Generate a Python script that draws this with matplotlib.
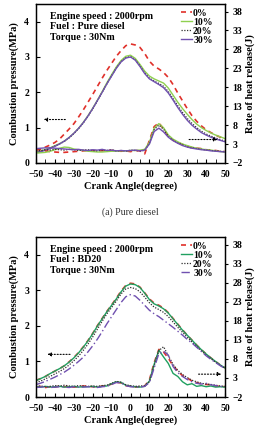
import numpy as np
import matplotlib
matplotlib.use('Agg')
import matplotlib.pyplot as plt

plt.rcParams['font.family'] = 'Liberation Serif'
plt.rcParams['font.weight'] = 'bold'

# crank angle grid (degree)
crank = np.arange(-50, 50.1, 2.5)

# ---------------- (a) Pure diesel ----------------
# combustion pressure (MPa)
pd_p0 = [0.36, 0.40, 0.45, 0.51, 0.58, 0.68, 0.82, 0.96, 1.11, 1.30, 1.50, 1.72, 1.94, 2.17,
         2.40, 2.62, 2.82, 3.02, 3.18, 3.32, 3.37, 3.34, 3.27, 3.10, 2.88, 2.74, 2.66, 2.56,
         2.42, 2.22, 1.98, 1.76, 1.54, 1.34, 1.18, 1.05, 0.94, 0.86, 0.79, 0.73, 0.68]
pd_p10 = [0.31, 0.34, 0.38, 0.43, 0.49, 0.55, 0.62, 0.72, 0.84, 0.98, 1.15, 1.34, 1.55, 1.78,
          2.02, 2.27, 2.50, 2.72, 2.90, 3.02, 3.05, 2.96, 2.79, 2.60, 2.46, 2.38, 2.32, 2.26,
          2.12, 1.92, 1.72, 1.54, 1.38, 1.23, 1.10, 1.00, 0.92, 0.85, 0.79, 0.74, 0.69]
pd_p20 = [0.30, 0.33, 0.37, 0.42, 0.48, 0.54, 0.61, 0.71, 0.83, 0.97, 1.13, 1.32, 1.53, 1.76,
          2.00, 2.24, 2.47, 2.69, 2.87, 2.98, 3.01, 2.92, 2.75, 2.55, 2.40, 2.32, 2.25, 2.17,
          2.02, 1.82, 1.62, 1.43, 1.26, 1.12, 1.00, 0.90, 0.82, 0.76, 0.71, 0.66, 0.62]
pd_p30 = [0.29, 0.32, 0.36, 0.41, 0.47, 0.54, 0.62, 0.72, 0.84, 0.98, 1.14, 1.33, 1.54, 1.77,
          2.00, 2.24, 2.46, 2.68, 2.86, 2.97, 3.00, 2.91, 2.73, 2.53, 2.38, 2.30, 2.22, 2.13,
          1.98, 1.78, 1.57, 1.38, 1.21, 1.07, 0.96, 0.86, 0.79, 0.73, 0.68, 0.64, 0.60]
# rate of heat release (J)
pd_h0 = [1.6, 1.5, 1.2, 1.0, 0.9, 0.8, 0.8, 0.9, 1.0, 1.1, 1.2, 1.3, 1.2, 1.3, 1.2, 1.4, 1.3,
         1.2, 1.1, 1.2, 1.0, 1.3, 1.2, 0.4, 4.0, 7.6, 8.6, 7.0, 5.0, 4.0, 3.4, 2.9, 2.4, 2.1,
         1.9, 1.8, 1.5, 1.4, 1.3, 1.1, 1.0]
pd_h10 = [0.6, 0.7, 0.8, 1.1, 1.5, 1.9, 2.2, 2.1, 1.7, 1.5, 1.3, 1.1, 1.0, 0.9, 0.9, 1.0, 1.1,
          1.1, 1.2, 1.2, 1.3, 1.3, 1.4, 1.6, 3.5, 7.2, 8.4, 7.3, 5.4, 4.3, 3.6, 3.0, 2.6, 2.2,
          1.9, 1.7, 1.5, 1.4, 1.2, 1.0, 0.9]
pd_h20 = [1.4, 1.3, 1.5, 1.4, 1.6, 1.5, 1.4, 1.6, 1.5, 1.3, 1.4, 1.5, 1.3, 1.2, 1.4, 1.3, 1.5,
          1.2, 1.3, 1.1, 1.4, 1.3, 1.2, 1.3, 3.2, 6.8, 8.0, 6.9, 5.0, 4.0, 3.3, 2.8, 2.2, 2.0,
          1.8, 1.6, 1.4, 1.3, 1.2, 1.1, 1.0]
pd_h30 = [1.8, 1.9, 2.0, 2.0, 1.9, 1.8, 1.7, 1.6, 1.5, 1.6, 1.4, 1.3, 1.5, 1.4, 1.6, 1.3, 1.4,
          1.2, 1.3, 1.2, 1.3, 1.4, 1.2, 1.4, 3.0, 6.3, 7.2, 6.2, 4.8, 3.9, 3.2, 2.6, 2.2, 1.9,
          1.7, 1.5, 1.4, 1.2, 1.1, 1.0, 0.9]

# ---------------- (b) BD20 ----------------
bd_p0 = [0.47, 0.52, 0.58, 0.66, 0.73, 0.80, 0.88, 0.99, 1.11, 1.25, 1.41, 1.59, 1.79, 2.01,
         2.21, 2.41, 2.59, 2.78, 2.98, 3.14, 3.20, 3.18, 3.09, 2.93, 2.76, 2.64, 2.58, 2.50,
         2.37, 2.21, 2.05, 1.89, 1.74, 1.60, 1.46, 1.33, 1.21, 1.10, 1.00, 0.90, 0.82]
bd_p10 = [0.46, 0.52, 0.58, 0.66, 0.73, 0.80, 0.88, 0.98, 1.10, 1.24, 1.40, 1.58, 1.78, 2.00,
          2.20, 2.40, 2.58, 2.76, 2.96, 3.12, 3.18, 3.16, 3.08, 2.92, 2.74, 2.62, 2.56, 2.48,
          2.36, 2.20, 2.04, 1.88, 1.74, 1.60, 1.46, 1.33, 1.21, 1.10, 1.00, 0.90, 0.82]
bd_p20 = [0.40, 0.45, 0.51, 0.58, 0.65, 0.72, 0.80, 0.90, 1.02, 1.15, 1.31, 1.49, 1.69, 1.91,
          2.13, 2.34, 2.52, 2.70, 2.90, 3.04, 3.08, 3.05, 2.96, 2.81, 2.65, 2.53, 2.46, 2.38,
          2.26, 2.11, 1.96, 1.82, 1.68, 1.55, 1.42, 1.30, 1.18, 1.08, 0.98, 0.89, 0.81]
bd_p30 = [0.35, 0.39, 0.44, 0.50, 0.56, 0.63, 0.70, 0.79, 0.89, 1.00, 1.12, 1.27, 1.44, 1.63,
          1.84, 2.06, 2.26, 2.46, 2.66, 2.82, 2.88, 2.84, 2.72, 2.58, 2.44, 2.34, 2.26, 2.16,
          2.06, 1.96, 1.85, 1.74, 1.62, 1.52, 1.40, 1.28, 1.16, 1.06, 0.97, 0.88, 0.80]
bd_h0 = [0.6, 0.8, 0.5, 0.7, 0.6, 0.9, 0.7, 0.8, 0.6, 0.7, 0.9, 0.8, 0.7, 0.6, 0.9, 1.0, 1.4,
         1.9, 1.7, 1.0, 0.8, 0.6, 0.7, 0.9, 2.5, 7.0, 10.5, 9.8, 8.2, 6.2, 4.8, 3.6, 3.0, 2.2,
         1.8, 1.4, 1.3, 1.2, 0.9, 0.8, 0.7]
bd_h10 = [0.7, 0.6, 0.8, 0.6, 0.7, 0.8, 0.6, 0.7, 0.8, 0.6, 0.7, 0.7, 0.8, 0.6, 0.8, 0.9, 1.5,
          2.0, 1.8, 1.1, 0.8, 0.7, 0.6, 0.8, 2.2, 6.6, 10.3, 8.5, 6.8, 4.2, 3.4, 2.0, 1.2, 1.5,
          0.8, 1.0, 0.7, 0.9, 0.6, 0.7, 0.6]
bd_h20 = [0.8, 0.9, 0.7, 0.8, 1.0, 0.9, 1.1, 0.9, 0.8, 1.0, 0.9, 0.8, 0.9, 0.8, 1.0, 1.1, 1.6,
          2.1, 1.9, 1.2, 1.0, 0.8, 0.9, 1.0, 2.0, 6.2, 10.2, 11.2, 8.8, 6.6, 5.0, 3.9, 3.1, 2.4,
          2.0, 1.6, 1.4, 1.3, 1.1, 0.9, 0.8]
bd_h30 = [0.5, 0.6, 0.7, 0.5, 0.6, 0.7, 0.6, 0.5, 0.7, 0.6, 0.6, 0.7, 0.6, 0.5, 0.7, 0.8, 1.3,
          1.8, 1.7, 1.0, 0.7, 0.6, 0.6, 0.8, 1.8, 5.6, 9.4, 10.0, 9.0, 6.0, 4.4, 3.4, 2.6, 2.0,
          1.6, 1.4, 1.6, 1.2, 1.0, 0.8, 0.7]

labels = ['0%', '10%', '20%', '30%']
red = '#e0302a'
purple = '#7050b0'
dark = '#303030'


def draw_panel(ax, p_list, h_list, styles, fuel, larrow, rarrow):
    ax2 = ax.twinx()
    lines = []
    for p, h, st in zip(p_list, h_list, styles):
        ln, = ax.plot(crank, p, **st)
        ax2.plot(crank, h, **st)
        lines.append(ln)

    ax.set_xlim(-50, 50)
    ax.set_ylim(0, 4.5)
    ax2.set_ylim(-2, 40)
    ax.set_xticks(np.arange(-50, 51, 10))
    ax.set_xticks(np.arange(-50, 51, 5), minor=True)
    ax.set_yticks([0, 1, 2, 3, 4])
    ax2.set_yticks(np.arange(-2, 39, 5))
    ax.tick_params(axis='x', which='both', direction='in', length=3, labelsize=7, pad=5)
    ax.tick_params(axis='y', direction='in', length=3, labelsize=7, pad=5)
    ax2.tick_params(axis='y', direction='out', length=2.5, labelsize=7, pad=3)

    ax.set_xlabel('Crank Angle(degree)', fontsize=7.5, fontweight='bold', labelpad=2)
    ax.set_ylabel('Combustion pressure(MPa)', fontsize=7.5, fontweight='bold', labelpad=4)
    ax2.set_ylabel('Rate of heat release(J)', fontsize=7.5, fontweight='bold', labelpad=2)

    ax.text(0.075, 0.95, 'Engine speed : 2000rpm\nFuel : ' + fuel + '\nTorque : 30Nm',
            transform=ax.transAxes, fontsize=7.2, fontweight='bold', va='top', ha='left',
            linespacing=1.2)

    ax.legend(lines, labels, loc='upper right', bbox_to_anchor=(0.96, 1.0),
              frameon=False, fontsize=7, handlelength=1.1, handletextpad=0.1,
              labelspacing=0.0, borderpad=0.3, borderaxespad=0.2)

    ax.annotate('', xy=(larrow[0], larrow[2]), xytext=(larrow[1], larrow[2]),
                arrowprops=dict(arrowstyle='-|>', linestyle=':', lw=0.8, color='k',
                                mutation_scale=5, shrinkA=0, shrinkB=0))
    ax2.annotate('', xy=(rarrow[1], rarrow[2]), xytext=(rarrow[0], rarrow[2]),
                 arrowprops=dict(arrowstyle='-|>', linestyle=':', lw=0.8, color='k',
                                 mutation_scale=5, shrinkA=0, shrinkB=0))
    for a in (ax, ax2):
        for s in a.spines.values():
            s.set_linewidth(0.9)
    return ax2


fig = plt.figure(figsize=(2.6, 4.33), dpi=100)

styles_a = [dict(color=red, lw=1.2, ls=(0, (3, 2.5))),
            dict(color='#8fd050', lw=1.0, ls='-'),
            dict(color=dark, lw=0.9, ls=(0, (1, 1.2))),
            dict(color=purple, lw=1.0, ls='-')]
styles_b = [dict(color=red, lw=1.2, ls=(0, (3, 2.5))),
            dict(color='#20a060', lw=1.0, ls='-'),
            dict(color=dark, lw=0.9, ls=(0, (1, 1.2))),
            dict(color=purple, lw=1.0, ls=(0, (6, 2, 1, 2)))]

ax_a = fig.add_axes([0.1385, 0.6236, 0.727, 0.3672])
draw_panel(ax_a, [pd_p0, pd_p10, pd_p20, pd_p30], [pd_h0, pd_h10, pd_h20, pd_h30],
           styles_a, 'Pure diesel', (-46, -34.5, 1.23), (31, 46, 4.2))

ax_b = fig.add_axes([0.1385, 0.0831, 0.727, 0.3695])
draw_panel(ax_b, [bd_p0, bd_p10, bd_p20, bd_p30], [bd_h0, bd_h10, bd_h20, bd_h30],
           styles_b, 'BD20', (-44, -32, 1.2), (36, 48, 4.0))

fig.text(0.5, 0.51, '(a) Pure diesel', ha='center', va='center', fontsize=7,
         fontweight='normal', color='#333333')

fig.savefig('out.png', dpi=100)
